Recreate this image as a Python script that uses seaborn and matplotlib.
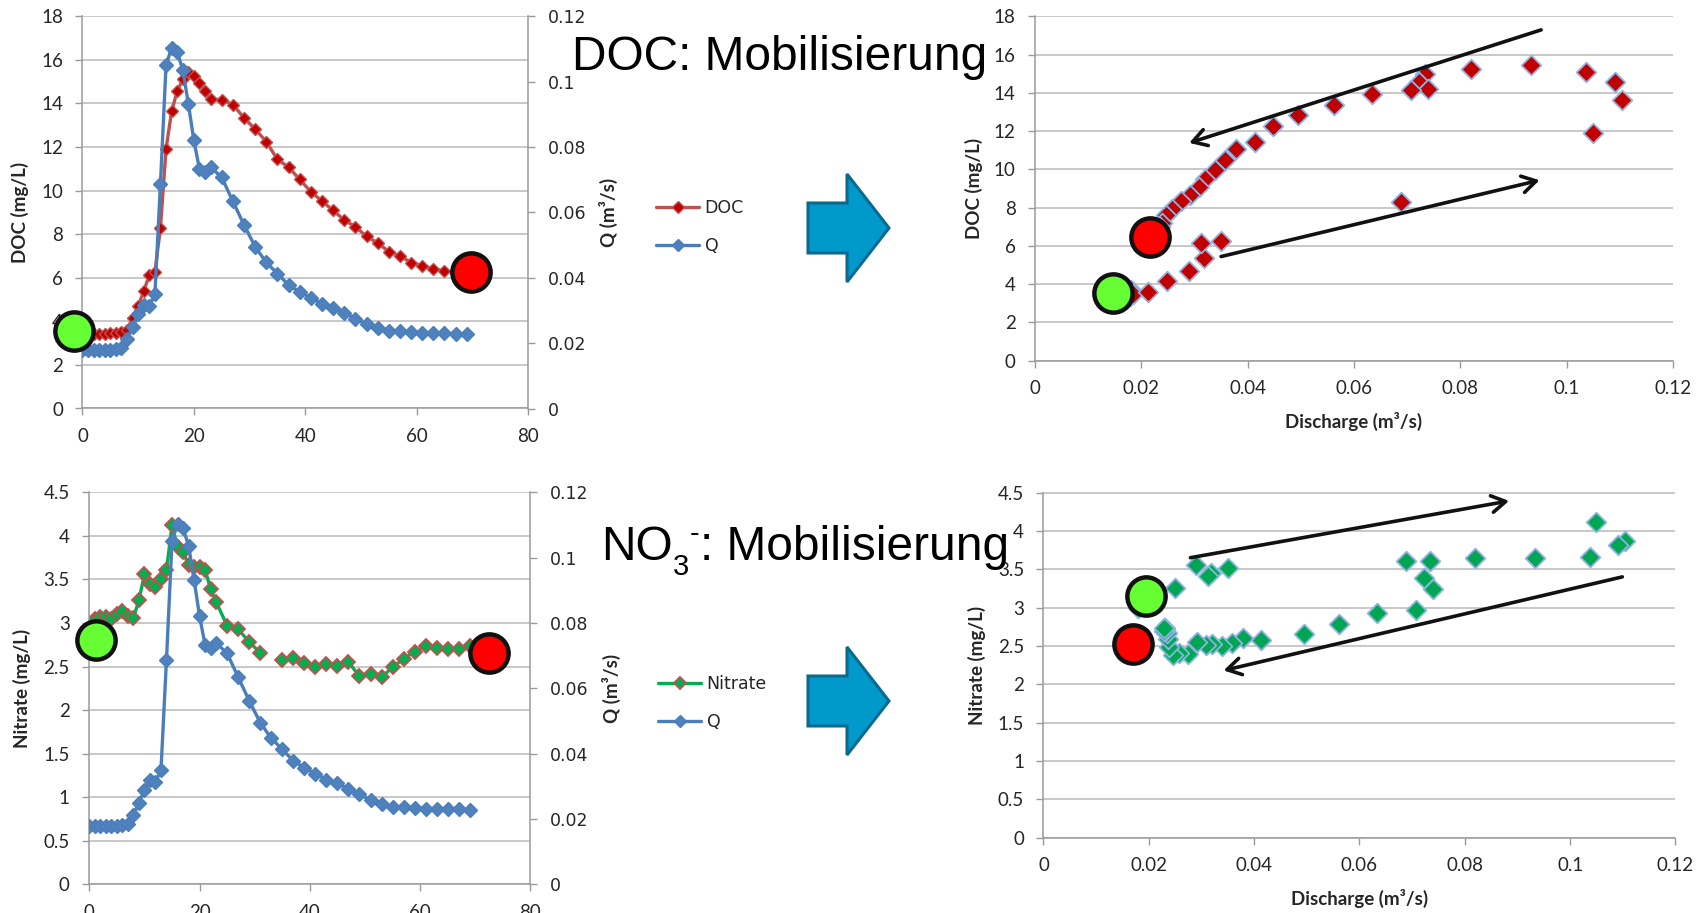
import numpy as np
import pandas as pd
import matplotlib
matplotlib.use("Agg")
import matplotlib.pyplot as plt
import seaborn as sns
from matplotlib.lines import Line2D
from matplotlib.patches import Polygon
from matplotlib.ticker import FuncFormatter
from matplotlib.font_manager import FontProperties

# ---------------------------------------------------------------- data
# sampling times of the storm event (h): hourly until 23 h, then every 2 h
hours = list(range(0, 24)) + list(range(25, 70, 2))

# discharge Q (m3/s)
discharge = [0.0180, 0.0179, 0.0178, 0.0178, 0.0178, 0.0179, 0.0181, 0.0184,
             0.0212, 0.0249, 0.0290, 0.0318, 0.0313, 0.0350, 0.0688, 0.1050,
             0.1104, 0.1090, 0.1037, 0.0933, 0.0820, 0.0733, 0.0723, 0.0739,
             0.0707, 0.0634, 0.0562, 0.0495, 0.0447, 0.0413, 0.0378, 0.0357,
             0.0338, 0.0320, 0.0309, 0.0292, 0.0275, 0.0258, 0.0246, 0.0238,
             0.0236, 0.0234, 0.0231, 0.0230, 0.0230, 0.0229, 0.0228]

# dissolved organic carbon (mg/L)
doc = [3.70, 3.45, 3.40, 3.40, 3.40, 3.45, 3.45, 3.50,
       3.61, 4.17, 4.71, 5.39, 6.13, 6.25, 8.30, 11.90,
       13.64, 14.56, 15.11, 15.43, 15.25, 14.96, 14.56, 14.21,
       14.16, 13.95, 13.34, 12.82, 12.25, 11.43, 11.08, 10.51,
       9.95, 9.52, 9.09, 8.65, 8.34, 7.90, 7.60, 7.20,
       7.00, 6.70, 6.55, 6.42, 6.30, 6.25, 6.20]

# nitrate (mg/L); the 33 h sample is missing
nitrate = [3.00, 3.05, 3.07, 3.07, 3.05, 3.10, 3.14, 3.08,
           3.06, 3.26, 3.56, 3.45, 3.41, 3.51, 3.61, 4.12,
           3.87, 3.82, 3.66, 3.64, 3.64, 3.61, 3.39, 3.24,
           2.97, 2.93, 2.78, 2.66, np.nan, 2.58, 2.60, 2.54,
           2.50, 2.53, 2.51, 2.55, 2.39, 2.41, 2.38, 2.49,
           2.59, 2.67, 2.74, 2.71, 2.70, 2.70, 2.73]

# start (green) and end (red) markers of the event in each panel
doc_ts_marks = [(-1.5, 3.54), (69.8, 6.26)]
no3_ts_marks = [(1.3, 2.80), (72.5, 2.66)]
doc_cq_marks = [(0.0147, 3.53), (0.0217, 6.45)]
no3_cq_marks = [(0.0195, 3.15), (0.0169, 2.52)]

# hysteresis direction arrows (start -> tip) in the C-Q panels
doc_cq_arrows = [((0.0952, 17.29), (0.0290, 11.38)),
                 ((0.0350, 5.44), (0.0949, 9.43))]
no3_cq_arrows = [((0.0279, 3.65), (0.0884, 4.39)),
                 ((0.1099, 3.40), (0.0342, 2.18))]

df = pd.DataFrame({"t": hours, "Q": discharge, "DOC": doc, "NO3": nitrate})
df["seg"] = df["NO3"].isna().cumsum()

# ---------------------------------------------------------------- style
sns.set_theme(style="white")
plt.rcParams["font.family"] = ["Lato", "DejaVu Sans"]

W, H = 1708, 913
fig = plt.figure(figsize=(W / 100, H / 100), dpi=100)
fig.patch.set_facecolor("white")

GRID = "#BFBFBF"
SPINE = "#9A9A9A"
TXT = "#262626"
RED_LINE, RED_MK = "#C0504D", "#C00000"
BLUE = "#4A7EBB"
GREEN = "#00B050"
EDGE_BLUE = "#8DB3E2"

tick_font = FontProperties(family=["Lato", "DejaVu Sans"], size=13.5)
q_font = FontProperties(family="DejaVu Sans", size=12.5)
lab_font = FontProperties(family=["Lato", "DejaVu Sans"], weight="bold", size=13.5)
fmt = FuncFormatter(lambda v, p: f"{v:g}")


def rect(x0, x1, ytop, ybot):
    return [x0 / W, 1 - ybot / H, (x1 - x0) / W, (ybot - ytop) / H]


def base_axis(ax, ymax, ystep):
    ax.set_ylim(0, ymax)
    ax.set_yticks(np.arange(0, ymax + 1e-9, ystep))
    ax.yaxis.set_major_formatter(fmt)
    ax.xaxis.set_major_formatter(fmt)
    ax.grid(axis="y", color=GRID, lw=1.2)
    ax.grid(axis="x", visible=False)
    ax.set_axisbelow(True)
    for s in ("top", "right"):
        ax.spines[s].set_visible(False)
    for s in ("left", "bottom"):
        ax.spines[s].set_color(SPINE)
        ax.spines[s].set_linewidth(1.1)
    ax.tick_params(axis="both", which="major", direction="out", length=5,
                   width=1, color=SPINE, pad=9, labelcolor=TXT)
    ax.tick_params(left=True, bottom=True)
    for lab in ax.get_xticklabels() + ax.get_yticklabels():
        lab.set_fontproperties(tick_font)
    ax.set_facecolor("none")


def circles(ax, marks, transform=None):
    for (x, y), col in zip(marks, ["#66FF33", "#FF0000"]):
        kw = {} if transform is None else {"transform": transform}
        ax.scatter([x], [y], s=760, c=col, edgecolors="#111111",
                   linewidths=3.2, zorder=20, clip_on=False, **kw)


def ts_panel(box, ycol, ymax, ystep, ylabel, style, ylab_x, qlab_x):
    x0, x1, yt, yb = box
    ax = fig.add_axes(rect(*box))
    ax2 = ax.twinx()
    if ycol == "NO3":
        sns.lineplot(data=df, x="t", y=ycol, units="seg", estimator=None,
                     ax=ax, **style)
    else:
        sns.lineplot(data=df, x="t", y=ycol, ax=ax, **style)
    sns.lineplot(data=df, x="t", y="Q", ax=ax2, color=BLUE, lw=2.4,
                 marker="D", markersize=7, markerfacecolor="#4F81BD",
                 markeredgecolor=BLUE, markeredgewidth=1)
    ax.set_xlim(0, 80)
    ax.set_xticks(range(0, 81, 20))
    base_axis(ax, ymax, ystep)
    ax.set_xlabel("")
    ax.set_ylabel(ylabel, fontproperties=lab_font, color=TXT)
    ax.yaxis.set_label_coords((ylab_x - x0) / (x1 - x0), 0.5)

    ax2.set_ylim(0, 0.12)
    ax2.set_yticks(np.arange(0, 0.1201, 0.02))
    ax2.yaxis.set_major_formatter(fmt)
    for s in ("top", "left", "bottom"):
        ax2.spines[s].set_visible(False)
    ax2.spines["right"].set_color(SPINE)
    ax2.spines["right"].set_linewidth(1.1)
    ax2.tick_params(axis="y", direction="out", length=5, width=1,
                    color=SPINE, pad=9, labelcolor=TXT, right=True)
    for lab in ax2.get_yticklabels():
        lab.set_fontproperties(q_font)
    ax2.grid(False)
    ax2.set_ylabel("Q (m³/s)", fontproperties=lab_font, color=TXT)
    ax2.yaxis.set_label_coords((qlab_x - x0) / (x1 - x0), 0.5)
    return ax, ax2


def cq_panel(box, ycol, ymax, ystep, ylabel, fill, ylab_x):
    x0, x1, yt, yb = box
    ax = fig.add_axes(rect(*box))
    sns.scatterplot(data=df, x="Q", y=ycol, ax=ax, marker="D", s=100,
                    color=fill, edgecolor=EDGE_BLUE, linewidth=1.3, zorder=5)
    ax.set_xlim(0, 0.12)
    ax.set_xticks(np.arange(0, 0.1201, 0.02))
    base_axis(ax, ymax, ystep)
    ax.set_ylabel(ylabel, fontproperties=lab_font, color=TXT)
    ax.yaxis.set_label_coords((ylab_x - x0) / (x1 - x0), 0.5)
    ax.set_xlabel("Discharge (m³/s)", fontproperties=lab_font, color=TXT,
                  labelpad=11)
    return ax


def cq_arrows(ax, arrows):
    for start, tip in arrows:
        ax.annotate("", xy=tip, xytext=start, zorder=15,
                    arrowprops=dict(arrowstyle="->,head_length=0.5,head_width=0.3",
                                    lw=2.6, color="#111111", mutation_scale=20,
                                    shrinkA=0, shrinkB=0))


# ---------------------------------------------------------------- time series
doc_style = dict(color=RED_LINE, lw=2.4, marker="D", markersize=6.5,
                 markerfacecolor=RED_MK, markeredgecolor=RED_LINE,
                 markeredgewidth=1)
no3_style = dict(color=GREEN, lw=2.4, marker="D", markersize=7,
                 markerfacecolor=GREEN, markeredgecolor=RED_LINE,
                 markeredgewidth=1.3)

ax_doc, ax_doc_q = ts_panel((82.5, 528, 16.3, 408.5), "DOC", 18, 2,
                            "DOC (mg/L)", doc_style, 29, 599)
circles(ax_doc_q, doc_ts_marks, transform=ax_doc.transData)
ax_doc_q.set_ylim(0, 0.12)

ax_no3, ax_no3_q = ts_panel((89.3, 530.4, 492.3, 884.3), "NO3", 4.5, 0.5,
                            "Nitrate (mg/L)", no3_style, 31, 602)
circles(ax_no3_q, no3_ts_marks, transform=ax_no3.transData)
ax_no3_q.set_ylim(0, 0.12)

# ---------------------------------------------------------------- C-Q panels
cq_doc = cq_panel((1035, 1673, 16.3, 360.6), "DOC", 18, 2, "DOC (mg/L)",
                  RED_MK, 983)
circles(cq_doc, doc_cq_marks)
cq_arrows(cq_doc, doc_cq_arrows)

cq_no3 = cq_panel((1043.5, 1675.5, 492.5, 837.7), "NO3", 4.5, 0.5,
                  "Nitrate (mg/L)", "#00A651", 986)
circles(cq_no3, no3_cq_marks)
cq_arrows(cq_no3, no3_cq_arrows)

# ---------------------------------------------------------------- legends
leg_font = FontProperties(family="DejaVu Sans", size=12.5)


def legend(handles, labels, x, y):
    fig.legend(handles, labels, loc="center left",
               bbox_to_anchor=(x / W, 1 - y / H), frameon=False,
               handlelength=2.5, handletextpad=0.3, labelspacing=1.2,
               borderpad=0, borderaxespad=0, prop=leg_font, numpoints=1,
               labelcolor=TXT)


q_handle = Line2D([], [], color=BLUE, lw=2.4, marker="D", markersize=6,
                  markerfacecolor="#4F81BD", markeredgecolor=BLUE)
legend([Line2D([], [], **doc_style | {"markersize": 6}), q_handle],
       ["DOC", "Q"], 656, 227)
legend([Line2D([], [], **no3_style | {"markersize": 6}), q_handle],
       ["Nitrate", "Q"], 658, 703)

# ---------------------------------------------------------------- titles
TITLE = dict(family="Liberation Sans", color="black", ha="left", va="baseline")
fig.text(572 / W, 1 - 70 / H, "DOC: Mobilisierung", size=34.5, **TITLE)

# nitrate title built from pieces: "NO" + subscript 3 + superscript minus
renderer = fig.canvas.get_renderer()


def put(x, y, s, size):
    t = fig.text(x / W, 1 - y / H, s, size=size, **TITLE)
    return x + t.get_window_extent(renderer).width


x = put(601, 560, "NO", 34.5)
x3 = put(x, 575, "3", 21)
x = put(x3 + 1, 542, "-", 21)
put(x + 1, 560, ": Mobilisierung", 34.5)

# ---------------------------------------------------------------- block arrows
def block_arrow(ymid):
    pts = [(808, ymid - 25), (847, ymid - 25), (847, ymid - 54), (889, ymid),
           (847, ymid + 54), (847, ymid + 25), (808, ymid + 25)]
    poly = Polygon([(x / W, 1 - y / H) for x, y in pts], closed=True,
                   transform=fig.transFigure, facecolor="#0099CC",
                   edgecolor="#0A6A8E", lw=2.2, zorder=5)
    fig.add_artist(poly)


block_arrow(228)
block_arrow(701)

fig.savefig("out.png", dpi=100, facecolor="white")
